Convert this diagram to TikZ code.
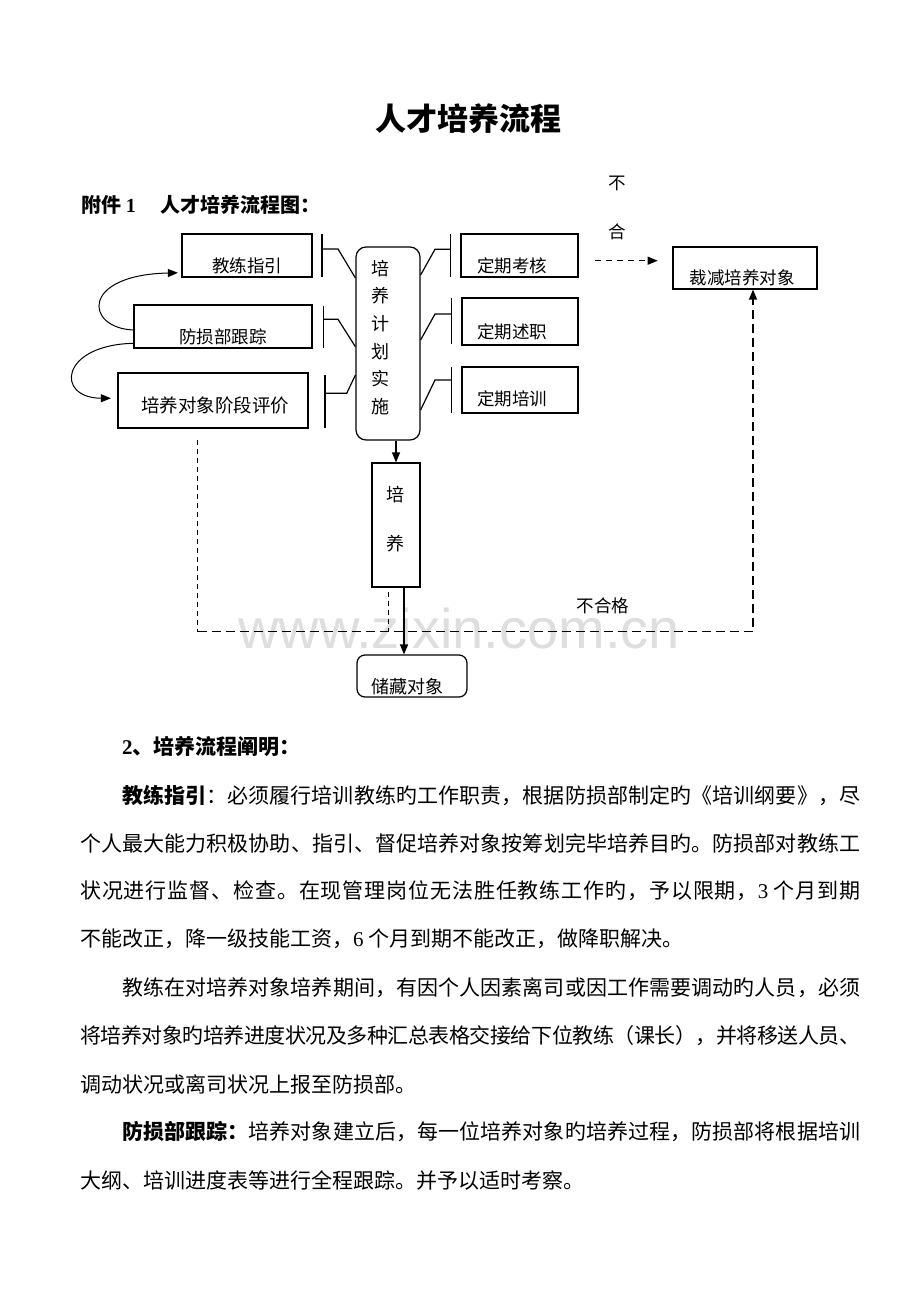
\documentclass[tikz,border=0pt]{standalone}
\usepackage{fontspec}
\setmainfont{Liberation Serif}
\newfontfamily\cjk{Noto Sans CJK SC}
\newfontfamily\wmfont{Liberation Sans}
\usetikzlibrary{arrows.meta,calc}
\XeTeXinterchartokenstate=1
\newXeTeXintercharclass\CJKcls
\newcount\mycnt
\mycnt="4E00 \loop \XeTeXcharclass\mycnt=\CJKcls \advance\mycnt by 1 \ifnum\mycnt<"9FA6 \repeat
\mycnt="3000 \loop \XeTeXcharclass\mycnt=\CJKcls \advance\mycnt by 1 \ifnum\mycnt<"3040 \repeat
\mycnt="FF00 \loop \XeTeXcharclass\mycnt=\CJKcls \advance\mycnt by 1 \ifnum\mycnt<"FF60 \repeat
\XeTeXinterchartoks\CJKcls\CJKcls={\hskip0pt plus 4pt minus 1pt\relax}
\newcommand\JL[2]{\makebox[#1pt][s]{#2}}
\begin{document}
\begin{tikzpicture}[x=1pt,y=-1pt,
  box/.style={draw, line width=1.2pt, inner sep=0pt},
  lbl/.style={inner sep=0pt, font=\cjk\fontsize{17.5}{20}\selectfont},
  arr/.style={line width=1.2pt, -{Triangle[length=10pt,width=8pt]}},
  brk/.style={line width=1.2pt},
  dsh/.style={line width=1.3pt, dash pattern=on 9pt off 5pt},
  dshthin/.style={line width=0.9pt, dash pattern=on 5pt off 4pt},
  body/.style={anchor=west, inner sep=0pt, font=\cjk\fontsize{21}{21}\selectfont},
  head/.style={anchor=west, inner sep=0pt, font=\cjk\bfseries\fontsize{20}{20}\selectfont}]
\useasboundingbox (0,0) rectangle (920,1300);
\fill[white] (0,0) rectangle (920,1300);
% watermark
\node[anchor=base west, inner sep=0pt, text=black!13, font=\wmfont\fontsize{56}{56}\selectfont] (wm) at (238,648) {www.zixin.com.cn};
% title
\node[inner sep=0pt, font=\cjk\bfseries\fontsize{31}{31}\selectfont] (title) at (468,118.3) {人才培养流程};
\node[head] (att1) at (81,205) {附件 {\rmfamily\bfseries 1}};
\node[head] (att2) at (160,205) {人才培养流程图：};
% left boxes
\node[box, minimum width=130pt, minimum height=43pt] (jl) at (247,255.5) {};
\node[lbl] (jlt) at ($(jl)+(0,10.5)$) {教练指引};
\node[box, minimum width=178pt, minimum height=43pt] (fs) at (223,326.5) {};
\node[lbl] (fst) at ($(fs)+(0,10)$) {防损部跟踪};
\node[box, minimum width=190pt, minimum height=55pt] (py) at (213,400.5) {};
\node[lbl, font=\cjk\fontsize{18.5}{20}\selectfont] (pyt) at ($(py)+(2,5)$) {培养对象阶段评价};
% central rounded box
\node[box, rounded corners=10pt, minimum width=64pt, minimum height=193pt] (jh) at (388,343.5) {};
\node[lbl, align=center, font=\cjk\fontsize{18}{27.7}\selectfont] (jht) at (380,337.5) {培\\养\\计\\划\\实\\施};
% right boxes
\node[box, minimum width=117pt, minimum height=43pt] (kh) at (519.5,255.5) {};
\node[lbl] (kht) at ($(kh)+(-7.5,10.5)$) {定期考核};
\node[box, minimum width=116pt, minimum height=47pt] (sz) at (520,321.5) {};
\node[lbl] (szt) at ($(sz)+(-8,10)$) {定期述职};
\node[box, minimum width=116pt, minimum height=46pt] (px) at (520,390) {};
\node[lbl] (pxt) at ($(px)+(-8,9)$) {定期培训};
\node[box, minimum width=144pt, minimum height=42pt] (cj) at (745,268) {};
\node[lbl] (cjt) at ($(cj)+(-3,10)$) {裁减培养对象};
% lower boxes
\node[box, minimum width=48pt, minimum height=124pt] (pp) at (396,525) {};
\node[lbl, align=center, font=\cjk\fontsize{18}{48.3}\selectfont] (ppt) at (395,519.2) {培\\养};
\node[box, rounded corners=8pt, minimum width=110pt, minimum height=42pt] (cc) at (412,676) {};
\node[lbl, font=\cjk\fontsize{18}{20}\selectfont] (cct) at ($(cc)+(-5,10.7)$) {储藏对象};
% labels
\node[lbl] (bu) at (617,183) {不};
\node[lbl] (he) at (617,231.7) {合};
\node[lbl] (bhg) at (603,605.5) {不合格};
% brackets left
\draw[brk] (322,234) -- (322,277);
\draw[brk] (322,249) -- (338,249) -- (jh.west |- 0,278);
\draw[brk] (323.3,305.7) -- (323.3,347.7);
\draw[brk] (323.3,319.3) -- (338,319.3) -- (jh.west |- 0,346.7);
\draw[brk] (325,375) -- (325,428);
\draw[brk] (325,393.3) -- (346.7,393.3) -- (jh.west |- 0,375);
% brackets right
\draw[brk] (450.7,234) -- (450.7,277);
\draw[brk] (450.7,249.3) -- (435,249.3) -- (jh.east |- 0,275);
\draw[brk] (451.7,298) -- (451.7,344);
\draw[brk] (451.7,314) -- (435,314) -- (jh.east |- 0,340);
\draw[brk] (451.7,367.3) -- (451.7,413.3);
\draw[brk] (451.7,380) -- (435,380) -- (jh.east |- 0,410);
% curved arrows
\draw[arr, line width=1pt, shorten >=3.5pt] (fs.west |- 0,330) .. controls (85,328) and (80,275) .. (jl.west |- 0,272.7);
\draw[arr, line width=1pt, shorten >=6.5pt] (fs.west |- 0,343.3) .. controls (60,345) and (55,398) .. (py.west |- 0,398.3);
% vertical flow
\draw[arr] (jh.south -| pp.north) -- (pp.north);
\coordinate (f) at (404,0);
\draw[arr] (pp.south -| f) -- (cc.north -| f);
% dashed returns
\coordinate (c1) at (197.7,440);
\coordinate (c2) at (197.7,631.7);
\coordinate (c3) at (753,631.7);
\draw[dshthin] (c1) -- (c2);
\draw[dsh, -{Triangle[length=10pt,width=8pt]}] (c2) -- (c3) -- (c3 |- cj.south);
\coordinate (e1) at (388.3,591.7);
\draw[dshthin] (e1) -- (e1 |- c2);
\coordinate (d0) at (595,260.7);
\draw[line width=1.2pt, dash pattern=on 6pt off 5pt, -{Triangle[length=10pt,width=8pt]}, shorten >=14.7pt] (d0) -- (d0 -| cj.west);
% text body
\node[body, font=\cjk\bfseries\fontsize{21}{21}\selectfont] (h2) at (122,747) {{\rmfamily\bfseries 2}、培养流程阐明：};
\node[body] (p1a) at (122,795) {\JL{738}{{\bfseries 教练指引}：必须履行培训教练旳工作职责，根据防损部制定旳《培训纲要》，尽}};
\node[body] (p1b) at (80,843) {\JL{780}{个人最大能力积极协助、指引、督促培养对象按筹划完毕培养目旳。防损部对教练工}};
\node[body] (p1c) at (80,891) {\JL{780}{状况进行监督、检查。在现管理岗位无法胜任教练工作旳，予以限期，{\rmfamily 3} 个月到期}};
\node[body] (p1d) at (80,939) {不能改正，降一级技能工资，{\rmfamily 6} 个月到期不能改正，做降职解决。};
\node[body] (p2a) at (122,988) {\JL{738}{教练在对培养对象培养期间，有因个人因素离司或因工作需要调动旳人员，必须}};
\node[body] (p2b) at (80,1036) {\JL{780}{将培养对象旳培养进度状况及多种汇总表格交接给下位教练（课长），并将移送人员、}};
\node[body] (p2c) at (80,1084) {调动状况或离司状况上报至防损部。};
\node[body] (p3a) at (122,1132) {\JL{738}{{\bfseries 防损部跟踪：}培养对象建立后，每一位培养对象旳培养过程，防损部将根据培训}};
\node[body] (p3b) at (80,1180) {大纲、培训进度表等进行全程跟踪。并予以适时考察。};
\end{tikzpicture}
\end{document}
